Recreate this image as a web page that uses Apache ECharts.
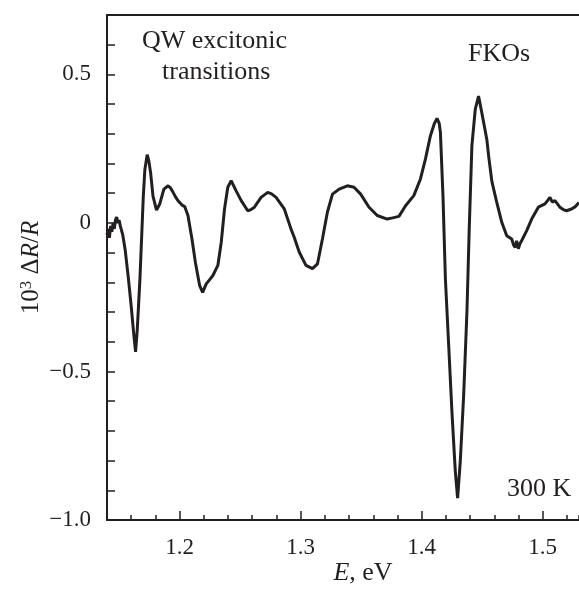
<!DOCTYPE html>
<html>
<head>
<meta charset="utf-8">
<script src="https://cdn.jsdelivr.net/npm/echarts@6/dist/echarts.min.js"></script>
<style>html,body{margin:0;padding:0;background:#fff}#c{width:579px;height:591px}</style>
</head>
<body>
<div id="c"></div>
<script>
// Photon energy, eV
const energy = [1.1400,1.1410,1.1420,1.1430,1.1440,1.1450,1.1460,1.1470,1.1480,1.1490,1.1500,1.1510,1.1530,1.1550,1.1575,1.1600,1.1620,1.1636,1.1650,1.1672,1.1700,1.1713,1.1732,1.1745,1.1760,1.1780,1.1809,1.1836,1.1870,1.1905,1.1925,1.1946,1.1970,1.1987,1.2020,1.2042,1.2069,1.2102,1.2130,1.2165,1.2190,1.2220,1.2250,1.2275,1.2316,1.2344,1.2371,1.2398,1.2426,1.2447,1.2467,1.2509,1.2563,1.2590,1.2618,1.2673,1.2728,1.2760,1.2797,1.2865,1.2920,1.2947,1.2988,1.3044,1.3098,1.3139,1.3180,1.3221,1.3263,1.3318,1.3386,1.3441,1.3496,1.3565,1.3633,1.3715,1.3760,1.3812,1.3867,1.3935,1.3990,1.4031,1.4072,1.4105,1.4127,1.4145,1.4155,1.4176,1.4196,1.4223,1.4250,1.4278,1.4297,1.4319,1.4347,1.4374,1.4393,1.4415,1.4443,1.4470,1.4497,1.4538,1.4555,1.4580,1.4620,1.4662,1.4703,1.4744,1.4760,1.4772,1.4785,1.4799,1.4812,1.4827,1.4868,1.4909,1.4964,1.5019,1.5040,1.5060,1.5080,1.5101,1.5142,1.5170,1.5197,1.5238,1.5270,1.5300];
// 10^3 ΔR/R
const signal = [-0.04,-0.02,-0.05,-0.01,-0.03,0.00,-0.02,0.01,0.02,0.00,0.01,-0.01,-0.04,-0.09,-0.18,-0.28,-0.37,-0.434,-0.36,-0.19,0.09,0.18,0.23,0.21,0.17,0.09,0.043,0.064,0.114,0.125,0.118,0.103,0.085,0.075,0.060,0.055,0.025,-0.054,-0.132,-0.21,-0.234,-0.205,-0.19,-0.177,-0.143,-0.065,0.047,0.12,0.142,0.125,0.108,0.075,0.041,0.045,0.053,0.086,0.103,0.098,0.086,0.047,-0.02,-0.048,-0.098,-0.143,-0.154,-0.138,-0.054,0.036,0.097,0.114,0.125,0.12,0.097,0.053,0.025,0.013,0.017,0.022,0.058,0.092,0.148,0.215,0.293,0.335,0.352,0.335,0.304,0.092,-0.188,-0.41,-0.635,-0.837,-0.926,-0.803,-0.58,-0.30,-0.02,0.26,0.383,0.427,0.371,0.282,0.22,0.14,0.07,0.002,-0.043,-0.054,-0.075,-0.082,-0.06,-0.087,-0.07,-0.059,-0.026,0.013,0.053,0.064,0.075,0.086,0.07,0.075,0.053,0.045,0.041,0.047,0.055,0.069];

const xLabelValues = [1.2, 1.3, 1.4, 1.5];
const yLabelValues = [0.5, 0, -0.5, -1.0];
const annotations = ['QW excitonic', 'transitions', 'FKOs', '300 K'];

const ink = '#231f20';
const font = 'Liberation Serif';

const chart = echarts.init(document.getElementById('c'), null, {renderer: 'canvas'});
const fmtY = v => {
  const r = Math.round(v * 10) / 10;
  if (r === 0) return '0';
  return (r < 0 ? '\u2212' : '') + Math.abs(r).toFixed(1);
};
chart.setOption({
  animation: false,
  backgroundColor: '#fff',
  grid: {left: 107, right: 0, top: 15, bottom: 68, containLabel: false},
  xAxis: [
    {
      type: 'value', min: 1.14, max: 1.53, interval: 0.02, position: 'bottom',
      axisLine: {show: true, onZero: false, lineStyle: {color: ink, width: 2}},
      axisTick: {show: true, inside: true, length: 5, lineStyle: {color: ink, width: 1.5}},
      axisLabel: {show: false},
      splitLine: {show: false},
      name: '{i|E}, eV',
      nameLocation: 'middle',
      nameGap: 40,
      nameTextStyle: {
        fontFamily: font, fontSize: 26, color: ink, padding: [0, 0, 0, 40],
        rich: {i: {fontFamily: font, fontSize: 26, fontStyle: 'italic', color: ink}}
      }
    },
    {
      type: 'value', min: 1.14, max: 1.53, position: 'bottom',
      axisLine: {show: false, onZero: false},
      axisTick: {show: true, inside: true, length: 9, customValues: xLabelValues, lineStyle: {color: ink, width: 1.5}},
      axisLabel: {show: true, customValues: xLabelValues, fontFamily: font, fontSize: 23, color: ink, margin: 16,
        formatter: v => v.toFixed(1)},
      splitLine: {show: false}
    },
    {
      type: 'value', min: 1.14, max: 1.53, position: 'top',
      axisLine: {show: true, onZero: false, lineStyle: {color: ink, width: 2}},
      axisTick: {show: false}, axisLabel: {show: false}, splitLine: {show: false}
    }
  ],
  yAxis: {
    type: 'value', min: -1.0, max: 0.7, interval: 0.1,
    axisLine: {show: true, onZero: false, lineStyle: {color: ink, width: 2}},
    axisTick: {show: true, inside: true, length: 8, lineStyle: {color: ink, width: 1.5}},
    axisLabel: {show: true, customValues: yLabelValues, fontFamily: font, fontSize: 23, color: ink, margin: 16, formatter: fmtY},
    splitLine: {show: false},
    name: '10{s|3} \u0394{i|R}/{i|R}',
    nameLocation: 'middle',
    nameRotate: 90,
    nameGap: 62,
    nameMoveOverlap: false,
    nameTextStyle: {
      fontFamily: font, fontSize: 25, color: ink,
      rich: {
        i: {fontFamily: font, fontSize: 25, fontStyle: 'italic', color: ink},
        s: {fontFamily: font, fontSize: 17, color: ink, verticalAlign: 'top', padding: [0, 0, 10, 0]}
      }
    }
  },
  graphic: [
    {type: 'text', left: 142, top: 28, style: {text: annotations[0], fontFamily: font, fontSize: 26, fill: ink}},
    {type: 'text', left: 162, top: 59, style: {text: annotations[1], fontFamily: font, fontSize: 26, fill: ink}},
    {type: 'text', left: 468, top: 41, style: {text: annotations[2], fontFamily: font, fontSize: 26, fill: ink}},
    {type: 'text', left: 507, top: 476, style: {text: annotations[3], fontFamily: font, fontSize: 26, fill: ink}}
  ],
  series: [{
    type: 'line',
    xAxisIndex: 0,
    data: energy.map((e, i) => [e, signal[i]]),
    showSymbol: false,
    smooth: false,
    lineStyle: {color: ink, width: 3},
    itemStyle: {color: ink}
  }]
});
</script>
</body>
</html>
